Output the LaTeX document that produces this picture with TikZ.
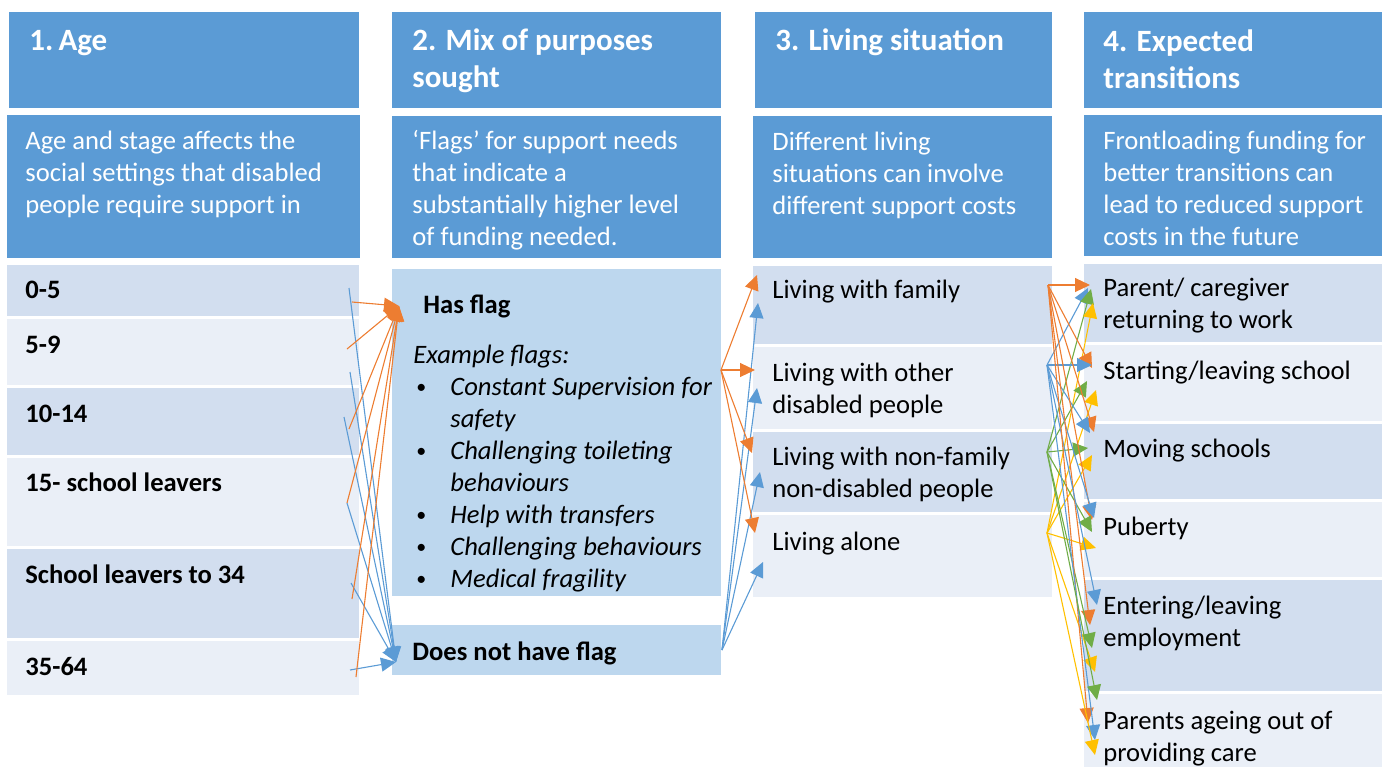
\documentclass[tikz,border=0pt]{standalone}
\usepackage{fontspec}
\setmainfont{Carlito}
\usetikzlibrary{arrows.meta}

\definecolor{hdr}{HTML}{5B9BD5}
\definecolor{rowdark}{HTML}{D2DEEF}
\definecolor{rowlight}{HTML}{EAEFF7}
\definecolor{flagbox}{HTML}{BDD7EE}
\definecolor{aorange}{HTML}{ED7D31}
\definecolor{ablue}{HTML}{5B9BD5}
\definecolor{agreen}{HTML}{70AD47}
\definecolor{ayellow}{HTML}{FFC000}

% filled cell given by its name, corners (x1,y1) (x2,y2) and colour
\newcommand\cellbox[6]{%
  \node[cell, fill=#6, minimum width={(#4-#2)*0.5pt}, minimum height={(#5-#3)*0.5pt}]
    (#1) at ({(#2+#4)/2},{(#3+#5)/2}) {};}

% text nodes are placed by the baseline of their last line
\tikzset{
  cell/.style={rectangle, inner sep=0pt, outer sep=0pt, draw=none},
  hdrtext/.style={anchor=base west, inner sep=0pt, align=left, text=white,
    font=\fontsize{15.5}{18.5}\selectfont\bfseries},
  desctext/.style={anchor=base west, inner sep=0pt, align=left, text=white,
    font=\fontsize{13.3}{16}\selectfont},
  rowtext/.style={anchor=base west, inner sep=0pt, align=left, text=black,
    font=\fontsize{13.3}{16}\selectfont},
  rowbold/.style={rowtext, font=\fontsize{13.3}{16}\selectfont\bfseries},
  rowital/.style={rowtext, font=\fontsize{13.3}{16}\selectfont\itshape},
  bulletmark/.style={rowtext, font=\fontsize{10}{16}\selectfont},
  link/.style={line width=0.55pt, -{Triangle[length=7.5pt,width=7pt]}},
}

\begin{document}
\begin{tikzpicture}[x=0.5pt, y=-0.5pt]
\useasboundingbox (0,0) rectangle (1382,767);

% ---------- column 1: age ----------
\cellbox{h1}{9}{12}{359}{108}{hdr}
\cellbox{d1}{7}{115}{360}{258}{hdr}
\cellbox{a1}{7}{265}{359}{316}{rowdark}
\cellbox{a2}{7}{319}{359}{385}{rowlight}
\cellbox{a3}{7}{388}{359}{455}{rowdark}
\cellbox{a4}{7}{458}{359}{546}{rowlight}
\cellbox{a5}{7}{549}{359}{638}{rowdark}
\cellbox{a6}{7}{641}{359}{695}{rowlight}

\node[hdrtext] (h1t) at (29,50) {1.\,Age};
\node[desctext] (d1t) at (25,213) {Age and stage affects the\\social settings that disabled\\people require support in};
\node[rowbold] (a1t) at (25,298) {0-5};
\node[rowbold] (a2t) at (25,353) {5-9};
\node[rowbold] (a3t) at (25,422) {10-14};
\node[rowbold] (a4t) at (25,491) {15- school leavers};
\node[rowbold] (a5t) at (25,583) {School leavers to 34};
\node[rowbold] (a6t) at (25,675) {35-64};

% ---------- column 2: purposes ----------
\cellbox{h2}{392}{12}{721}{108}{hdr}
\cellbox{d2}{392}{116}{721}{258}{hdr}
\cellbox{f1}{392}{269}{721}{596}{flagbox}
\cellbox{f2}{392}{625}{721}{675}{flagbox}

\node[hdrtext] (h2t) at (412,87) {2. Mix of purposes\\sought};
\node[desctext] (d2t) at (412,245) {‘Flags’ for support needs\\that indicate a\\substantially higher level\\of funding needed.};
\node[rowbold] (f1t) at (423,313) {Has flag};
\node[rowital] (f1e) at (413,363) {Example flags:};
\foreach \yy in {393,457,521,553,585}
  \node[bulletmark] at (416,\yy) {•};
\node[rowital] (f1l) at (450,587)
  {Constant Supervision for\\safety\\Challenging toileting\\behaviours\\Help with transfers\\Challenging behaviours\\Medical fragility};
\node[rowbold] (f2t) at (412,660) {Does not have flag};

% ---------- column 3: living situation ----------
\cellbox{h3}{755}{12}{1052}{108}{hdr}
\cellbox{d3}{753}{116}{1052}{258}{hdr}
\cellbox{l1}{753}{266}{1052}{344}{rowdark}
\cellbox{l2}{753}{347}{1052}{429}{rowlight}
\cellbox{l3}{753}{432}{1052}{512}{rowdark}
\cellbox{l4}{753}{515}{1052}{597}{rowlight}

\node[hdrtext] (h3t) at (775,50) {3. Living situation};
\node[desctext] (d3t) at (772,214) {Different living\\situations can involve\\different support costs};
\node[rowtext] (l1t) at (772,298) {Living with family};
\node[rowtext] (l2t) at (772,413) {Living with other\\disabled people};
\node[rowtext] (l3t) at (772,497) {Living with non-family\\non-disabled people};
\node[rowtext] (l4t) at (772,550) {Living alone};

% ---------- column 4: transitions ----------
\cellbox{h4}{1084}{12}{1382}{108}{hdr}
\cellbox{d4}{1084}{115}{1382}{256}{hdr}
\cellbox{t1}{1084}{264}{1382}{342}{rowdark}
\cellbox{t2}{1084}{345}{1382}{421}{rowlight}
\cellbox{t3}{1084}{424}{1382}{499}{rowdark}
\cellbox{t4}{1084}{502}{1382}{577}{rowlight}
\cellbox{t5}{1084}{580}{1382}{691}{rowdark}
\cellbox{t6}{1084}{694}{1382}{767}{rowlight}

\node[hdrtext] (h4t) at (1103,88) {4. Expected\\transitions};
\node[desctext] (d4t) at (1103,245) {Frontloading funding for\\better transitions can\\lead to reduced support\\costs in the future};
\node[rowtext] (t1t) at (1103,328) {Parent/ caregiver\\returning to work};
\node[rowtext] (t2t) at (1103,379) {Starting/leaving school};
\node[rowtext] (t3t) at (1103,457) {Moving schools};
\node[rowtext] (t4t) at (1103,535) {Puberty};
\node[rowtext] (t5t) at (1103,646) {Entering/leaving\\employment};
\node[rowtext] (t6t) at (1103,761) {Parents ageing out of\\providing care};

% ---------- age -> flag ----------
\coordinate (flagin) at (399,306);
\coordinate (noflagin) at (396,662);
\coordinate (ao1) at (352,302);
\coordinate (ao2) at (347,349);
\coordinate (ao3) at (349,429);
\coordinate (ao4) at (347,503);
\coordinate (ao5) at (352,599);
\coordinate (ao6) at (356,677);
\coordinate (ab1) at (349,288);
\coordinate (ab2) at (350,372);
\coordinate (ab3) at (344,417);
\coordinate (ab4) at (347,503);
\coordinate (ab5) at (351,583);
\coordinate (ab6) at (350,670);
\foreach \i in {1,...,6} {
  \draw[link, ablue] (ab\i) -- (noflagin);
  \draw[link, aorange] (ao\i) -- (flagin);
}

% ---------- flag -> living situation ----------
\coordinate (fo) at (721,370);
\coordinate (fb) at (722,650);
\coordinate (lo1) at (757,275);
\coordinate (lo2) at (755,370);
\coordinate (lo3) at (752,453);
\coordinate (lo4) at (755,533);
\coordinate (lb1) at (758,303);
\coordinate (lb2) at (757,388);
\coordinate (lb3) at (760,472);
\coordinate (lb4) at (763,562);
\foreach \i in {1,...,4} {
  \draw[link, ablue] (fb) -- (lb\i);
  \draw[link, aorange] (fo) -- (lo\i);
}

% ---------- living situation -> transitions ----------
\coordinate (so) at (1048,285);
\coordinate (sb) at (1047,365);
\coordinate (sg) at (1047,452);
\coordinate (sy) at (1047,533);
\foreach \n/\x/\y in {1/1090/285, 2/1092/368, 3/1094/432, 4/1092/520, 5/1090/625, 6/1088/723}
  \coordinate (eo\n) at (\x,\y);
\foreach \n/\x/\y in {1/1088/288, 2/1092/365, 3/1090/433, 4/1094/518, 5/1097/605, 6/1095/740}
  \coordinate (eb\n) at (\x,\y);
\foreach \n/\x/\y in {1/1091/289, 2/1087/381, 3/1088/448, 4/1092/532, 5/1092/648, 6/1097/700}
  \coordinate (eg\n) at (\x,\y);
\foreach \n/\x/\y in {1/1093/303, 2/1096/390, 3/1092/455, 4/1096/548, 5/1095/672, 6/1095/755}
  \coordinate (ey\n) at (\x,\y);
\foreach \i in {1,...,6} {
  \draw[link, aorange] (so) -- (eo\i);
  \draw[link, ablue] (sb) -- (eb\i);
  \draw[link, agreen] (sg) -- (eg\i);
  \draw[link, ayellow] (sy) -- (ey\i);
}
\end{tikzpicture}
\end{document}
